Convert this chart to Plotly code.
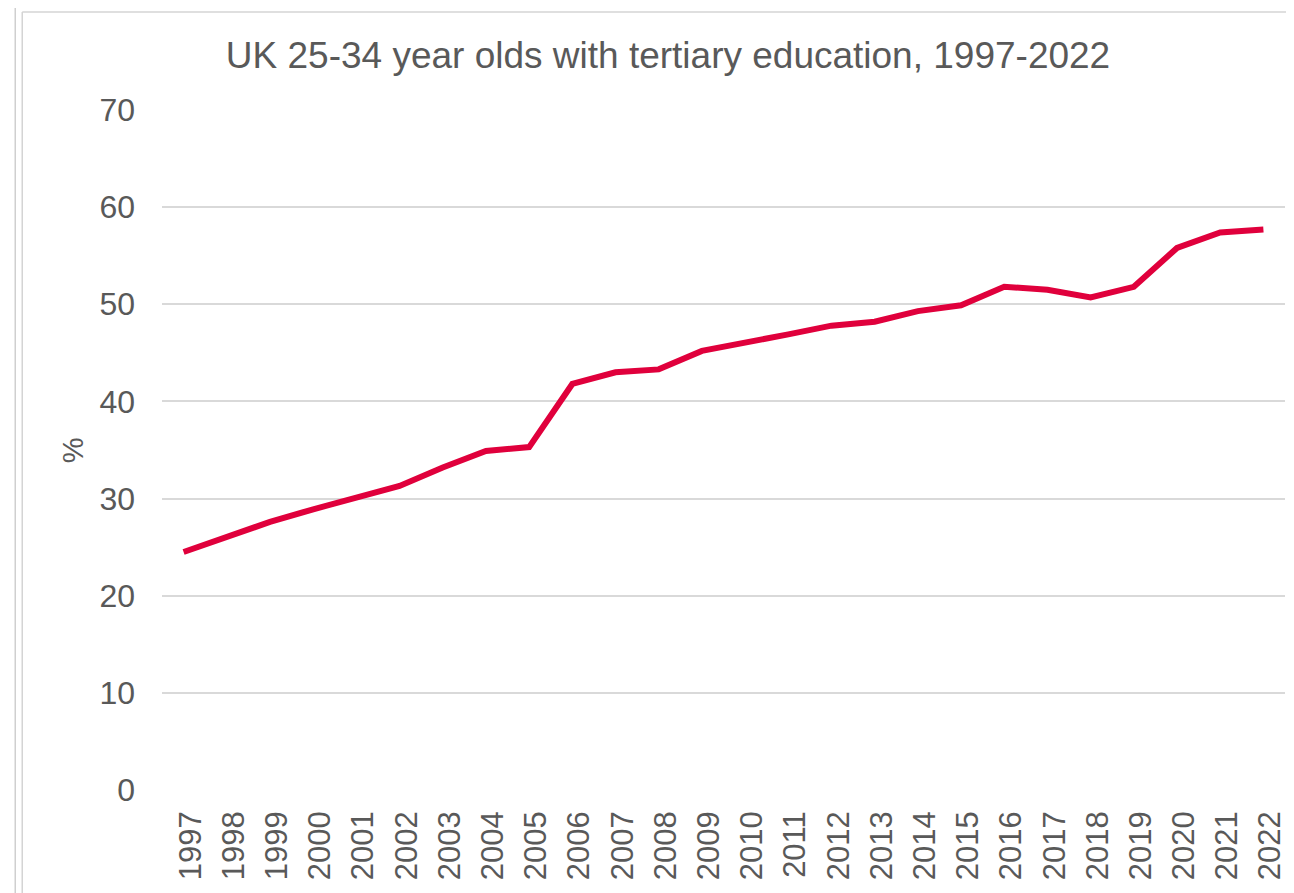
import plotly.graph_objects as go

years = [str(y) for y in range(1997, 2023)]
values = [24.5, 26.0, 27.6, 28.9, 30.1, 31.3, 33.2, 34.9, 35.3, 41.8, 43.0, 43.3,
          45.2, 46.0, 46.9, 47.8, 48.2, 49.3, 49.9, 51.8, 51.5, 50.7, 51.8, 55.8,
          57.4, 57.7]
title_text = "UK 25-34 year olds with tertiary education, 1997-2022"
y_ticks = [0, 10, 20, 30, 40, 50, 60, 70]

TXT = "#595959"
FONT = "Liberation Sans, Arial, sans-serif"

W, H = 1286, 885          # page body has 8px margin
PL, PR, PT, PB = 162, 1287, 110, 790   # plot area in page pixels
PW, PH = PR - PL, PB - PT


def px(xp):
    return (xp - PL) / PW


def py(yp):
    return (PB - yp) / PH


fig = go.Figure()
fig.add_trace(go.Scatter(
    x=years, y=values, mode="lines",
    line=dict(color="#E0003C", width=6),
    showlegend=False, hoverinfo="skip",
))

fig.update_layout(
    width=W, height=H,
    paper_bgcolor="white", plot_bgcolor="white",
    margin=dict(l=PL - 8, r=W - (PR - 8), t=PT - 8, b=H - (PB - 8), pad=0),
    title=dict(text=title_text, x=(668 - 8) / W, xref="container", xanchor="center",
               y=1 - (55 - 8) / H, yref="container", yanchor="middle",
               font=dict(family=FONT, size=37, color=TXT)),
    xaxis=dict(type="category", tickangle=-90, showgrid=False,
               tickfont=dict(family=FONT, size=31, color=TXT),
               ticks="", showline=False, range=[-0.5, 25.5], ticklabelstandoff=14,
               ticklabelshift=7),
    yaxis=dict(range=[0, 70], tickvals=y_ticks, showgrid=True, gridcolor="#d9d9d9",
               gridwidth=1.5, zeroline=False, ticks="",
               tickfont=dict(family=FONT, size=32, color=TXT),
               ticklabelstandoff=26),
    annotations=[dict(text="%", xref="paper", yref="paper", x=px(73), y=py(450),
                      xanchor="center", yanchor="middle", textangle=-90, showarrow=False,
                      font=dict(family=FONT, size=29, color=TXT))],
    shapes=[
        dict(type="line", xref="paper", yref="paper", x0=px(15), x1=px(15),
             y0=py(1000), y1=py(-10), line=dict(color="#cfcfcf", width=1.5)),
        dict(type="line", xref="paper", yref="paper", x0=px(22), x1=px(22),
             y0=py(1000), y1=py(12), line=dict(color="#d4d4d4", width=1.5)),
        dict(type="line", xref="paper", yref="paper", x0=px(22), x1=px(1400),
             y0=py(12), y1=py(12), line=dict(color="#d4d4d4", width=1.5)),
    ],
)

fig.write_html("out.html")
